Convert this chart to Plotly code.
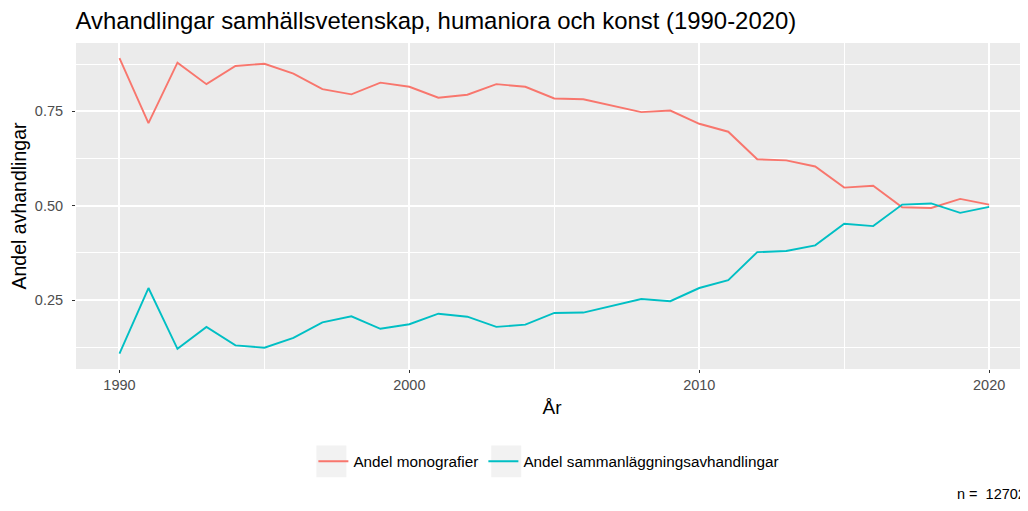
import plotly.graph_objects as go

years = list(range(1990, 2021))
andel_monografier = [0.891, 0.719, 0.879, 0.822, 0.870, 0.876, 0.850, 0.809, 0.795, 0.826,
                     0.815, 0.786, 0.794, 0.822, 0.815, 0.784, 0.782, 0.765, 0.748, 0.752,
                     0.717, 0.696, 0.623, 0.620, 0.604, 0.548, 0.553, 0.496, 0.494, 0.518,
                     0.503]
andel_sammanlaggning = [0.108, 0.282, 0.121, 0.179, 0.130, 0.124, 0.150, 0.191, 0.207, 0.174,
                        0.186, 0.214, 0.206, 0.179, 0.185, 0.216, 0.217, 0.235, 0.253, 0.247,
                        0.282, 0.303, 0.377, 0.380, 0.395, 0.452, 0.446, 0.503, 0.506, 0.481,
                        0.497]
series_names = ["Andel monografier", "Andel sammanläggningsavhandlingar"]
series_colors = ["#F8766D", "#00BFC4"]
y_ticks = [0.25, 0.50, 0.75]
y_tick_labels = ["0.25", "0.50", "0.75"]
x_ticks = [1990, 2000, 2010, 2020]
title_text = "Avhandlingar samhällsvetenskap, humaniora och konst (1990-2020)"
caption_text = "n =  12702"

FONT = "Liberation Sans, Arial, Helvetica, sans-serif"

# page body has an 8px margin, so the figure is laid out in page coords minus OFF
OFF = 8
W, H = 1028 - OFF, 511 - 2 * OFF
L, R, T = 75.5 - OFF, 0, 43 - OFF
B = H - (369.5 - OFF)
PW, PH = W - L - R, H - T - B


def px_x(p):
    return (p - OFF - L) / PW


def px_y(p):
    return (H - B - (p - OFF)) / PH


fig = go.Figure()
for name, vals, col in zip(series_names, [andel_monografier, andel_sammanlaggning], series_colors):
    fig.add_trace(go.Scatter(x=years, y=vals, mode="lines", name=name,
                             line=dict(color=col, width=1.9)))

# grey legend key backgrounds (ggplot style)
shapes = []
for x0 in (316, 491):
    shapes.append(dict(type="rect", xref="paper", yref="paper", layer="below",
                       x0=px_x(x0), x1=px_x(x0 + 30), y0=px_y(478), y1=px_y(446),
                       fillcolor="#F2F2F2", line=dict(width=0)))

fig.update_layout(
    width=W, height=H,
    margin=dict(l=L, r=R, t=T, b=B, autoexpand=False),
    paper_bgcolor="white", plot_bgcolor="#EBEBEB",
    font=dict(family=FONT, color="#1a1a1a"),
    title=dict(text=title_text, x=L / W, xref="container", xanchor="left",
               y=1 - (20.5 - OFF) / H, yanchor="middle", yref="container",
               font=dict(size=23.9, color="black", family=FONT)),
    showlegend=True,
    legend=dict(orientation="h", x=px_x(313), xanchor="left", y=px_y(462), yanchor="middle",
                font=dict(size=15.3, color="black", family=FONT), bgcolor="rgba(0,0,0,0)",
                itemwidth=30, tracegroupgap=0),
    shapes=shapes,
    xaxis=dict(range=[1988.5, 2021.34], tickvals=x_ticks, ticktext=[str(v) for v in x_ticks],
               showgrid=True, gridcolor="white", gridwidth=2, automargin=False,
               minor=dict(dtick=5, tick0=1995, showgrid=True, gridcolor="white", gridwidth=1),
               ticks="outside", ticklen=3, tickcolor="#333333", tickwidth=1.2,
               tickfont=dict(size=14.5, color="#4D4D4D", family=FONT),
               title=dict(text="År", font=dict(size=19, color="black", family=FONT), standoff=8),
               zeroline=False, showline=False, fixedrange=True),
    yaxis=dict(range=[0.0675, 0.931], tickvals=y_ticks, ticktext=y_tick_labels,
               showgrid=True, gridcolor="white", gridwidth=2, automargin=False,
               minor=dict(tickvals=[0.125, 0.375, 0.625, 0.875], showgrid=True,
                          gridcolor="white", gridwidth=1),
               ticks="outside", ticklen=3, tickcolor="#333333", tickwidth=1.2,
               ticklabelstandoff=6,
               tickfont=dict(size=14.5, color="#4D4D4D", family=FONT),
               title=dict(text="Andel avhandlingar", font=dict(size=19.5, color="black", family=FONT),
                          standoff=3),
               zeroline=False, showline=False, fixedrange=True),
    annotations=[dict(text=caption_text, xref="paper", yref="paper",
                      x=px_x(955), y=px_y(495),
                      xanchor="left", yanchor="middle", showarrow=False,
                      font=dict(size=14.5, color="black", family=FONT))],
)

fig.write_html("out.html")
